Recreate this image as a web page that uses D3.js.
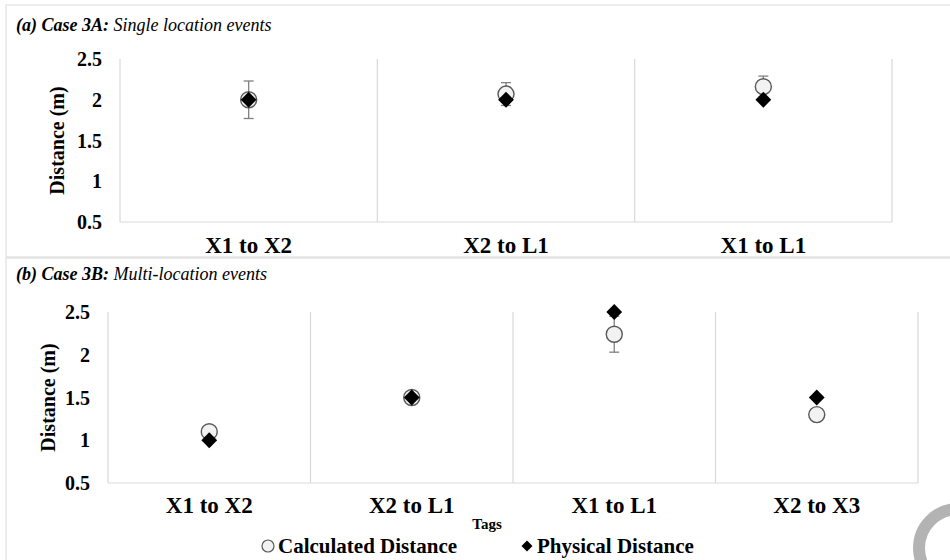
<!DOCTYPE html>
<html>
<head>
<meta charset="utf-8">
<script src="https://cdn.jsdelivr.net/npm/d3@7"></script>
<style>
  body { margin: 0; background: #fff; }
  svg { display: block; font-family: "Liberation Serif", "Times New Roman", serif; }
</style>
</head>
<body>
<svg id="chart" width="950" height="560"></svg>
<script>
// Data
const yTicks = [0.5, 1, 1.5, 2, 2.5];

const topCats = ["X1 to X2", "X2 to L1", "X1 to L1"];
const topCalc = [2.0, 2.07, 2.16];
const topCalcErr = [0.23, 0.14, 0.13];
const topPhys = [2.0, 2.0, 2.0];

const botCats = ["X1 to X2", "X2 to L1", "X1 to L1", "X2 to X3"];
const botCalc = [1.1, 1.5, 2.24, 1.3];
const botCalcErr = [0, 0, 0.21, 0];
const botPhys = [1.0, 1.5, 2.5, 1.5];

const svg = d3.select("#chart");
const grid = "#d9d9d9";

// Panel frames
svg.append("rect").attr("x", 6).attr("y", 5).attr("width", 960).attr("height", 252)
  .attr("fill", "none").attr("stroke", grid);
svg.append("rect").attr("x", 6).attr("y", 258).attr("width", 960).attr("height", 320)
  .attr("fill", "none").attr("stroke", grid);

function drawPanel(cfg) {
  const g = svg.append("g");
  const x = d3.scaleBand().domain(cfg.cats).range([cfg.left, cfg.right]).padding(0);
  const y = d3.scaleLinear().domain([0.5, 2.5]).range([cfg.bottom, cfg.top]);

  // vertical separators (category boundaries)
  const bounds = cfg.cats.map(c => x(c)).concat([cfg.right]);
  g.selectAll(".sep").data(bounds).join("line")
    .attr("x1", d => d).attr("x2", d => d)
    .attr("y1", cfg.top).attr("y2", cfg.bottom)
    .attr("stroke", grid).attr("stroke-width", 1.2);
  g.append("line").attr("x1", cfg.left).attr("x2", cfg.right)
    .attr("y1", cfg.bottom).attr("y2", cfg.bottom)
    .attr("stroke", grid).attr("stroke-width", 1.2);

  // y tick labels
  g.selectAll(".yt").data(yTicks).join("text")
    .attr("x", cfg.left - 18).attr("y", d => y(d)).attr("dy", "0.35em")
    .attr("text-anchor", "end").attr("font-weight", "bold").attr("font-size", 20)
    .text(d => d);

  // x tick labels
  g.selectAll(".xt").data(cfg.cats).join("text")
    .attr("x", d => x(d) + x.bandwidth() / 2).attr("y", cfg.bottom + cfg.xLabelGap)
    .attr("text-anchor", "middle").attr("font-weight", "bold").attr("font-size", 23)
    .text(d => d);

  // y axis title
  g.append("text")
    .attr("transform", `translate(${cfg.yTitleX},${(cfg.top + cfg.bottom) / 2}) rotate(-90)`)
    .attr("text-anchor", "middle").attr("font-weight", "bold").attr("font-size", 20)
    .text("Distance (m)");

  // panel title
  const t = g.append("text").attr("x", 16).attr("y", cfg.titleY).attr("font-size", 18)
    .attr("font-style", "italic");
  t.append("tspan").attr("font-weight", "bold").text(cfg.titleBold);
  t.append("tspan").text(cfg.titleRest);

  const pts = cfg.cats.map((c, i) => ({
    cx: x(c) + x.bandwidth() / 2, calc: cfg.calc[i], err: cfg.err[i], phys: cfg.phys[i]
  }));

  // error bars
  const eb = g.selectAll(".eb").data(pts.filter(d => d.err > 0)).join("g").attr("stroke", "#808080").attr("stroke-width", 1.3);
  eb.append("line").attr("x1", d => d.cx).attr("x2", d => d.cx)
    .attr("y1", d => y(d.calc - d.err)).attr("y2", d => y(d.calc + d.err));
  eb.append("line").attr("x1", d => d.cx - 5).attr("x2", d => d.cx + 5)
    .attr("y1", d => y(d.calc - d.err)).attr("y2", d => y(d.calc - d.err));
  eb.append("line").attr("x1", d => d.cx - 5).attr("x2", d => d.cx + 5)
    .attr("y1", d => y(d.calc + d.err)).attr("y2", d => y(d.calc + d.err));

  // calculated distance markers
  g.selectAll(".calc").data(pts).join("circle")
    .attr("cx", d => d.cx).attr("cy", d => y(d.calc)).attr("r", 8)
    .attr("fill", "#f2f2f2").attr("stroke", "#595959").attr("stroke-width", 1.4);

  // physical distance markers
  const diamond = d3.symbol().type(d3.symbolSquare).size(125);
  g.selectAll(".phys").data(pts).join("path")
    .attr("d", diamond)
    .attr("transform", d => `translate(${d.cx},${y(d.phys)}) rotate(45)`)
    .attr("fill", "#000");
}

drawPanel({
  cats: topCats, calc: topCalc, err: topCalcErr, phys: topPhys,
  left: 120, right: 892, top: 59, bottom: 222,
  xLabelGap: 31, yTitleX: 64, titleY: 31,
  titleBold: "(a) Case 3A:", titleRest: " Single location events"
});

drawPanel({
  cats: botCats, calc: botCalc, err: botCalcErr, phys: botPhys,
  left: 108, right: 918, top: 312, bottom: 483,
  xLabelGap: 30, yTitleX: 55, titleY: 280,
  titleBold: "(b) Case 3B:", titleRest: " Multi-location events"
});

// x axis title
svg.append("text").attr("x", 487).attr("y", 529).attr("text-anchor", "middle")
  .attr("font-weight", "bold").attr("font-size", 15).text("Tags");

// legend
const legend = svg.append("g").attr("font-weight", "bold").attr("font-size", 21);
legend.append("circle").attr("cx", 268).attr("cy", 546).attr("r", 6)
  .attr("fill", "#f2f2f2").attr("stroke", "#595959").attr("stroke-width", 1.2);
legend.append("text").attr("x", 278).attr("y", 553).text("Calculated Distance");
legend.append("path").attr("d", d3.symbol().type(d3.symbolSquare).size(60))
  .attr("transform", "translate(527,546) rotate(45)").attr("fill", "#000");
legend.append("text").attr("x", 537).attr("y", 553).text("Physical Distance");

// watermark ring in the corner
svg.append("circle").attr("cx", 958).attr("cy", 548).attr("r", 39)
  .attr("fill", "none").attr("stroke", "#b3b3b3").attr("stroke-width", 12);
</script>
</body>
</html>
